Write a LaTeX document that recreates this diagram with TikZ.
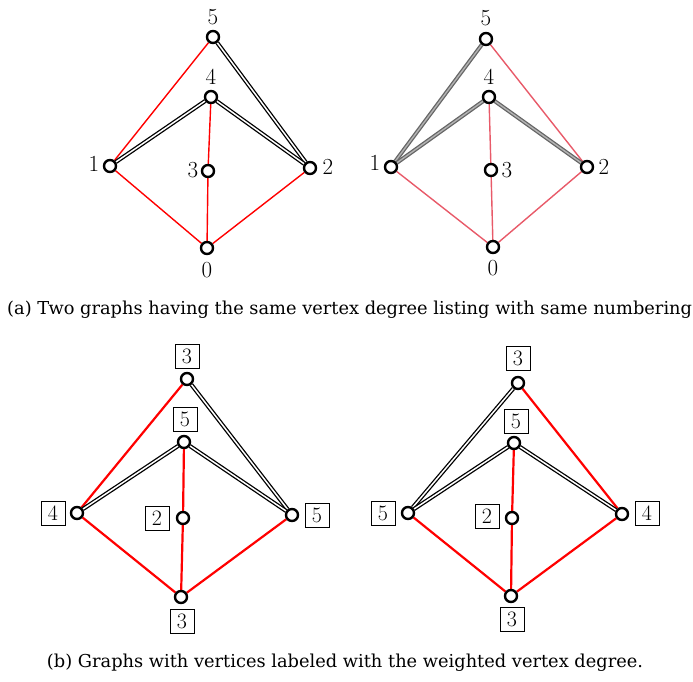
\documentclass[tikz,border=0pt]{standalone}
\usepackage{fontspec}
\newfontfamily\capfont{DejaVu Serif}
\usetikzlibrary{backgrounds}
\begin{document}
\begin{tikzpicture}[x=1pt,y=-1pt,
  v/.style={circle,draw=black,line width=2.4pt,fill=white,minimum size=12pt,inner sep=0pt},
  dbl/.style={draw=black,double=white,line width=1.3pt,double distance=1.5pt},
  rd/.style={draw=red,line width=1.4pt},
  dblg/.style={draw=black!60,double=black!30,line width=1.3pt,double distance=1.4pt},
  rdp/.style={draw={rgb,255:red,232;green,90;blue,105},line width=1.4pt},
  rdb/.style={draw=red,line width=2.2pt},
  lab/.style={font=\fontsize{23}{23}\selectfont,inner sep=0pt},
  bx/.style={draw=black,line width=0.9pt,font=\fontsize{22}{22}\selectfont,minimum width=24pt,minimum height=24pt,inner sep=0pt},
  captext/.style={font=\capfont\fontsize{17.8}{18}\selectfont,inner sep=0pt}]
\useasboundingbox (0,0) rectangle (693,681);
% ---------- top left ----------
\node[v] (a5) at (213,37) {};
\node[v] (a4) at (211,97) {};
\node[v] (a1) at (110,166) {};
\node[v] (a3) at (208,171) {};
\node[v] (a2) at (310,168) {};
\node[v] (a0) at (207,248) {};
\node[lab] (la5) at (213,17) {5};
\node[lab] (la4) at (211,77) {4};
\node[lab] (la1) at (94,164) {1};
\node[lab] (la3) at (193,170) {3};
\node[lab] (la2) at (328,167) {2};
\node[lab] (la0) at (207,270) {0};
\begin{pgfonlayer}{background}
\draw[rd] (a5) -- (a1);
\draw[dbl] (a5) -- (a2);
\draw[dbl] (a4) -- (a1);
\draw[dbl] (a4) -- (a2);
\draw[rd] (a4) -- (a3);
\draw[rd] (a3) -- (a0);
\draw[rd] (a1) -- (a0);
\draw[rd] (a2) -- (a0);
\end{pgfonlayer}
% ---------- top right ----------
\node[v] (b5) at (486,39) {};
\node[v] (b4) at (489,97) {};
\node[v] (b1) at (391,167) {};
\node[v] (b3) at (491,170) {};
\node[v] (b2) at (587,167) {};
\node[v] (b0) at (493,247) {};
\node[lab] (lb5) at (486,18) {5};
\node[lab] (lb4) at (489,77) {4};
\node[lab] (lb1) at (375,163) {1};
\node[lab] (lb3) at (507,170) {3};
\node[lab] (lb2) at (604,167) {2};
\node[lab] (lb0) at (493,268) {0};
\begin{pgfonlayer}{background}
\draw[dblg] (b5) -- (b1);
\draw[rdp] (b5) -- (b2);
\draw[dblg] (b4) -- (b1);
\draw[dblg] (b4) -- (b2);
\draw[rdp] (b4) -- (b3);
\draw[rdp] (b3) -- (b0);
\draw[rdp] (b1) -- (b0);
\draw[rdp] (b2) -- (b0);
\end{pgfonlayer}
\node[captext,anchor=west] (capa) at (7,310) {(a) Two graphs having the same vertex degree listing with same numbering};
% ---------- bottom left ----------
\node[v] (c5) at (187,379) {};
\node[v] (c4) at (184,442) {};
\node[v] (c1) at (77,513) {};
\node[v] (c3) at (183,518) {};
\node[v] (c2) at (292,515) {};
\node[v] (c0) at (181,597) {};
\node[bx] (lc5) at (187,356) {3};
\node[bx] (lc4) at (185,419) {5};
\node[bx] (lc1) at (53,513) {4};
\node[bx] (lc3) at (157,518) {2};
\node[bx] (lc2) at (317,515) {5};
\node[bx] (lc0) at (182,621) {3};
\begin{pgfonlayer}{background}
\draw[rdb] (c5) -- (c1);
\draw[dbl] (c5) -- (c2);
\draw[dbl] (c4) -- (c1);
\draw[dbl] (c4) -- (c2);
\draw[rdb] (c4) -- (c3);
\draw[rdb] (c3) -- (c0);
\draw[rdb] (c1) -- (c0);
\draw[rdb] (c2) -- (c0);
\end{pgfonlayer}
% ---------- bottom right ----------
\node[v] (d5) at (518,383) {};
\node[v] (d4) at (514,443) {};
\node[v] (d1) at (408,513) {};
\node[v] (d3) at (512,518) {};
\node[v] (d2) at (622,514) {};
\node[v] (d0) at (511,596) {};
\node[bx] (ld5) at (518,358) {3};
\node[bx] (ld4) at (516,421) {5};
\node[bx] (ld1) at (383,513) {5};
\node[bx] (ld3) at (487,516) {2};
\node[bx] (ld2) at (647,513) {4};
\node[bx] (ld0) at (512,619) {3};
\begin{pgfonlayer}{background}
\draw[dbl] (d5) -- (d1);
\draw[rdb] (d5) -- (d2);
\draw[dbl] (d4) -- (d1);
\draw[dbl] (d4) -- (d2);
\draw[rdb] (d4) -- (d3);
\draw[rdb] (d3) -- (d0);
\draw[rdb] (d1) -- (d0);
\draw[rdb] (d2) -- (d0);
\end{pgfonlayer}
\node[captext] (capb) at (345,663) {(b) Graphs with vertices labeled with the weighted vertex degree.};
\end{tikzpicture}
\end{document}
